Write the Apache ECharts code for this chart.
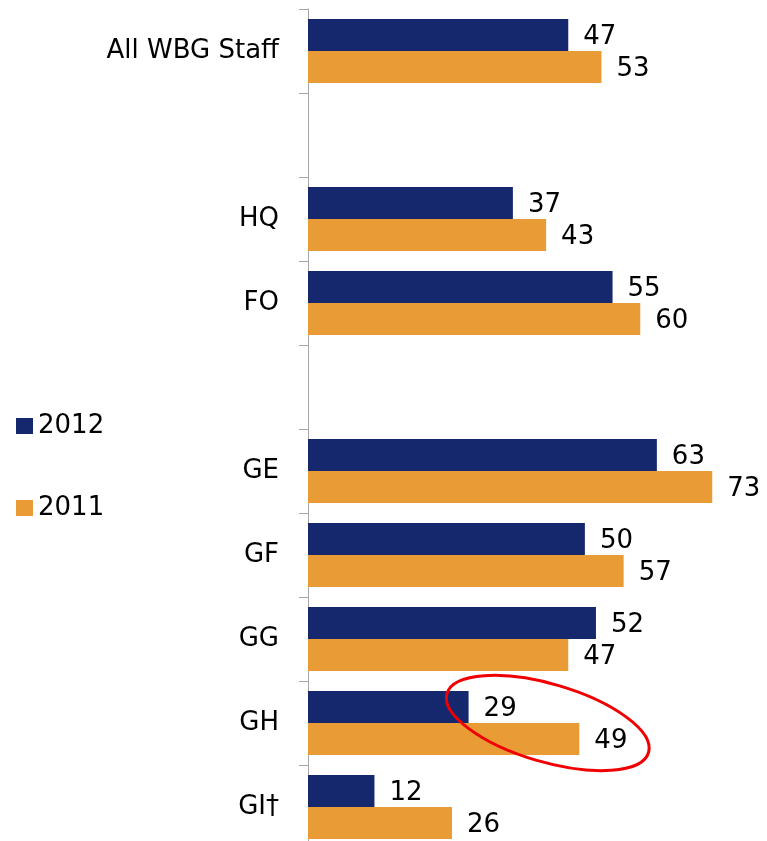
<!DOCTYPE html>
<html><head><meta charset="utf-8">
<script src="https://cdn.jsdelivr.net/npm/echarts@6/dist/echarts.min.js"></script>
<style>html,body{margin:0;padding:0;background:#fff;overflow:hidden}#c{width:767px;height:860px}</style>
</head><body><div id="c"></div>
<script>
var categories = ['All WBG Staff', ' ', 'HQ', 'FO', '  ', 'GE', 'GF', 'GG', 'GH', 'GI\u2020'];
var values2012 = [47, null, 37, 55, null, 63, 50, 52, 29, 12];
var values2011 = [53, null, 43, 60, null, 73, 57, 47, 49, 26];
var seriesNames = ['2012', '2011'];
var FONT = '"DejaVu Sans", Verdana, sans-serif';
var chart = echarts.init(document.getElementById('c'));
var lbl = {show: true, position: 'right', distance: 15, fontSize: 26, color: '#000', fontFamily: FONT, offset: [0, 2]};
chart.setOption({
  animation: false,
  backgroundColor: '#fff',
  grid: {left: 308, top: 9, height: 840, width: 443},
  legend: {
    orient: 'vertical', left: 16, top: 413, itemWidth: 17, itemHeight: 16, itemGap: 56, padding: 0,
    icon: 'rect',
    textStyle: {fontSize: 26, color: '#000', fontFamily: FONT, lineHeight: 26},
    data: seriesNames
  },
  xAxis: {type: 'value', min: 0, max: 80, show: false, splitLine: {show: false}},
  yAxis: {
    type: 'category', inverse: true, data: categories,
    axisLine: {show: true, lineStyle: {color: '#A6A6A6', width: 1}},
    axisTick: {show: true, length: 9, lineStyle: {color: '#A6A6A6'}},
    axisLabel: {fontSize: 26, color: '#000', fontFamily: FONT, margin: 29}
  },
  series: [
    {name: seriesNames[0], type: 'bar', data: values2012, barWidth: 32, barGap: '0%',
     itemStyle: {color: '#15276D'}, label: lbl},
    {name: seriesNames[1], type: 'bar', data: values2011, barWidth: 32, barGap: '0%',
     itemStyle: {color: '#E99B35'}, label: lbl}
  ]
});
var ctr = chart.convertToPixel({gridIndex: 0}, [43.3, 'GH']);
chart.setOption({
  graphic: [{
    type: 'ellipse', x: ctr[0], y: ctr[1], rotation: -16.3 * Math.PI / 180,
    shape: {cx: 0, cy: 0, rx: 105, ry: 39},
    style: {fill: 'none', stroke: '#F00000', lineWidth: 3}, z: 100
  }]
});
</script></body></html>
